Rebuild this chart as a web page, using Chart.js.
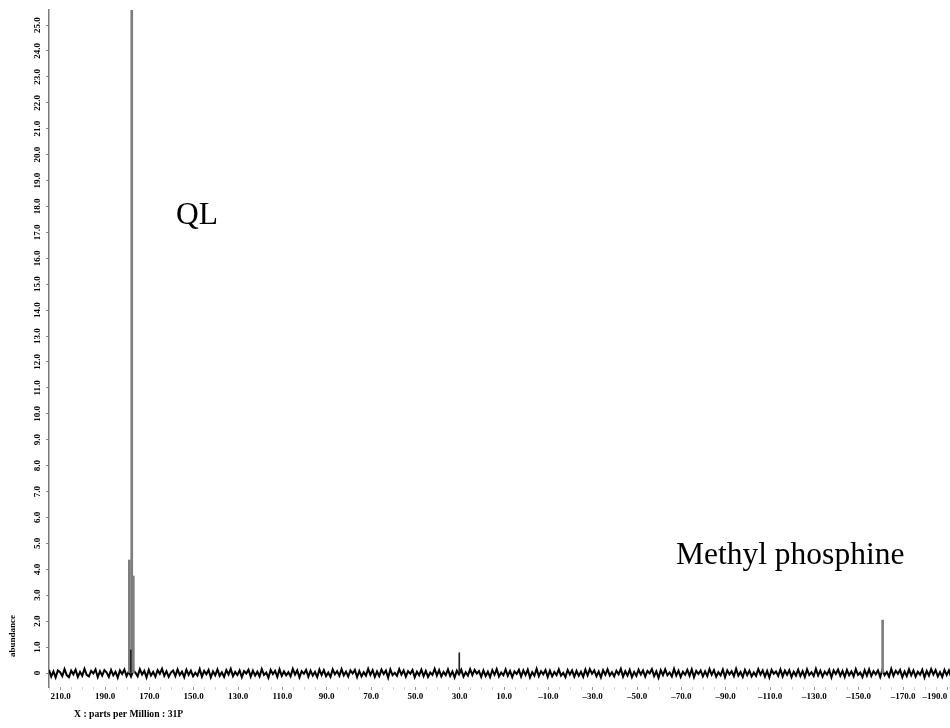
<!DOCTYPE html>
<html>
<head>
<meta charset="utf-8">
<script src="https://cdn.jsdelivr.net/npm/chart.js@4.4.1/dist/chart.umd.min.js"></script>
<style>
  html, body { margin: 0; padding: 0; background: #fff; }
  canvas { display: block; }
</style>
</head>
<body>
<canvas id="spectrum" width="950" height="728"></canvas>
<script>
// 31P NMR spectrum: baseline samples on a uniform ppm grid, plus the resolved resonances.
const gridStartPpm = 215.3;
const gridStepPpm = 1.0;

// Baseline intensity (noise) at each grid point, in abundance units.
const baseline = [
  0.12, -0.14, 0.06, -0.17, 0.1, 0.03, -0.12, 0.15, -0.08, -0.16, 0.09, -0.05, 0.13, -0.15, 0.04, -0.11, 0.16, -0.07, -0.13, 0.08,
  -0.02, 0.14, -0.16, 0.07, -0.1, 0.11, 0.02, -0.15, 0.12, -0.09, 0.05, -0.18, 0.1, -0.04, 0.13, -0.12, 0.06, -0.14, 0.09, 0.01,
  -0.13, 0.15, -0.06, 0.08, -0.17, 0.12, -0.1, 0.04, -0.14, 0.11, -0.03, 0.16, -0.11, 0.07, -0.15, 0.02, 0.1, -0.12, 0.14, -0.08,
  0.05, -0.16, 0.13, -0.07, 0.09, -0.13, 0.01, -0.1, 0.15, -0.14, 0.08, -0.05, 0.12, -0.17, 0.06, -0.09, 0.14, -0.11, 0.03, -0.15,
  0.11, -0.06, 0.16, -0.12, 0.04, -0.08, 0.1, -0.16, 0.07, -0.02, 0.13, -0.14, 0.09, -0.1, 0.05, -0.13, 0.15, -0.07, 0.02, -0.18,
  0.12, -0.04, 0.08, -0.15, 0.14, -0.11, 0.06, -0.09, 0.03, -0.13, 0.16, -0.06, 0.1, -0.17, 0.07, -0.03, 0.12, -0.14, 0.09, -0.1,
  0.04, -0.16, 0.13, -0.08, 0.11, -0.12, 0.02, -0.15, 0.14, -0.05, 0.07, -0.11, 0.15, -0.09, 0.05, -0.14, 0.1, -0.02, 0.12, -0.16,
  0.08, -0.13, 0.03, -0.1, 0.16, -0.07, 0.11, -0.15, 0.06, -0.12, 0.13, -0.04, 0.09, -0.18, 0.14, -0.08, 0.01, -0.11, 0.15, -0.06,
  0.1, -0.14, 0.07, -0.03, 0.12, -0.16, 0.05, -0.09, 0.13, -0.12, 0.08, -0.15, 0.02, -0.07, 0.16, -0.1, 0.11, -0.13, 0.04, -0.08,
  0.14, -0.11, 0.06, -0.17, 0.09, -0.05, 0.13, -0.14, 0.03, -0.1, 0.15, -0.08, 0.12, -0.02, 0.07, -0.15, 0.1, -0.12, 0.05, -0.16,
  0.11, -0.07, 0.15, -0.13, 0.02, -0.09, 0.14, -0.11, 0.08, -0.16, 0.06, -0.04, 0.12, -0.14, 0.1, -0.08, 0.13, -0.17, 0.03, -0.1,
  0.16, -0.12, 0.07, -0.05, 0.11, -0.15, 0.09, -0.13, 0.04, -0.08, 0.14, -0.1, 0.01, -0.16, 0.12, -0.06, 0.1, -0.14, 0.08, -0.11,
  0.05, -0.15, 0.13, -0.09, 0.15, -0.03, 0.1, -0.12, 0.06, -0.17, 0.11, -0.07, 0.14, -0.1, 0.03, -0.13, 0.09, -0.05, 0.16, -0.14,
  0.07, -0.1, 0.12, -0.16, 0.04, -0.11, 0.13, -0.06, 0.1, -0.14, 0.08, -0.02, 0.15, -0.12, 0.06, -0.18, 0.11, -0.08, 0.14, -0.09,
  0.02, -0.13, 0.16, -0.1, 0.09, -0.15, 0.05, -0.07, 0.12, -0.11, 0.14, -0.16, 0.08, -0.04, 0.1, -0.13, 0.06, -0.12, 0.15, -0.07,
  0.11, -0.14, 0.03, -0.09, 0.13, -0.16, 0.1, -0.05, 0.07, -0.12, 0.16, -0.1, 0.04, -0.15, 0.12, -0.08, 0.09, -0.13, 0.02, -0.11,
  0.15, -0.06, 0.1, -0.14, 0.08, -0.17, 0.12, -0.03, 0.06, -0.11, 0.14, -0.13, 0.09, -0.07, 0.11, -0.16, 0.05, -0.1, 0.13, -0.12,
  0.07, -0.15, 0.14, -0.08, 0.03, -0.12, 0.16, -0.1, 0.09, -0.14, 0.05, -0.06, 0.12, -0.17, 0.1, -0.04, 0.13, -0.11, 0.08, -0.15,
  0.12, -0.09, 0.06, -0.13, 0.15, -0.07, 0.02, -0.16, 0.11, -0.1, 0.14, -0.12, 0.07, -0.05, 0.1, -0.15, 0.13, -0.08, 0.04, -0.14,
  0.16, -0.11, 0.09, -0.03, 0.12, -0.16, 0.06, -0.12, 0.14, -0.09, 0.1, -0.14, 0.05, -0.07, 0.13, -0.17, 0.08, -0.1, 0.15, -0.06,
  0.11, -0.13, 0.04, -0.15, 0.12, -0.08, 0.1, -0.16, 0.07, -0.11
];

// Resonances: chemical shift (ppm) and intensity.
const peakPpm    = [179.05, 178.4, 177.97, 177.25, 30.2, -160.8];
const peakHeight = [4.36, 0.89, 31.0, 3.74, 0.78, 2.04];

// Axis ticks
const xTickLabels = [210, 190, 170, 150, 130, 110, 90, 70, 50, 30, 10, -10, -30, -50, -70, -90, -110, -130, -150, -170, -190];
const yTickValues = [0, 1, 2, 3, 4, 5, 6, 7, 8, 9, 10, 11, 12, 13, 14, 15, 16, 17, 18, 19, 20, 21, 22, 23, 24, 25];

// Text
const peakNames = ['QL', 'Methyl phosphine'];
const xAxisTitle = 'X : parts per Million : 31P';
const yAxisTitle = 'abundance';

const baselineTrace = baseline.map((v, i) => ({ x: gridStartPpm - i * gridStepPpm, y: v }));
const peakTrace = peakPpm.map((p, i) => ({ x: p, y: peakHeight[i] }));
// Strong resonances are drawn as wider grey sticks, weak ones as thin dark sticks
const strongPeaks = peakTrace.filter(p => p.y > 1.5);
const weakPeaks = peakTrace.filter(p => p.y <= 1.5);

const serif = '"Liberation Serif", "Times New Roman", serif';
const tickFont = { family: serif, size: 9, weight: 'bold' };
const formatPpm = v => (v < 0 ? '\u2013' + Math.abs(v).toFixed(1) : v.toFixed(1));

const textPlugin = {
  id: 'spectrumText',
  afterDraw(chart) {
    const ctx = chart.ctx;
    ctx.save();
    ctx.fillStyle = '#000';
    ctx.textAlign = 'left';
    ctx.textBaseline = 'alphabetic';
    ctx.font = '31.5px ' + serif;
    ctx.fillText(peakNames[0], 176, 224);
    ctx.fillText(peakNames[1], 676, 564);
    ctx.font = 'bold 9.7px ' + serif;
    ctx.fillText(xAxisTitle, 74, 717);
    ctx.font = 'bold 9px ' + serif;
    ctx.translate(13, 636);
    ctx.rotate(-Math.PI / 2);
    ctx.textAlign = 'center';
    ctx.textBaseline = 'middle';
    ctx.fillText(yAxisTitle, 0, 0);
    ctx.restore();
  }
};

new Chart(document.getElementById('spectrum'), {
  type: 'line',
  data: {
    datasets: [
      {
        type: 'bar',
        data: strongPeaks,
        order: 1,
        barThickness: 2,
        grouped: false,
        borderWidth: 0,
        backgroundColor: '#7d7d7d'
      },
      {
        type: 'bar',
        data: weakPeaks,
        order: 0,
        barThickness: 1,
        grouped: false,
        borderWidth: 0,
        backgroundColor: '#222'
      },
      {
        type: 'line',
        data: baselineTrace,
        order: 2,
        borderColor: '#000',
        borderWidth: 2,
        pointRadius: 0,
        tension: 0,
        fill: false
      }
    ]
  },
  options: {
    responsive: false,
    animation: false,
    devicePixelRatio: 1,
    layout: { padding: { top: 10, left: 0, right: 0, bottom: 0 } },
    plugins: { legend: { display: false }, tooltip: { enabled: false } },
    scales: {
      x: {
        type: 'linear',
        reverse: true,
        offset: false,
        min: -191.2,
        max: 215.3,
        afterBuildTicks: scale => {
          const ticks = [];
          for (let v = -190; v <= 215; v += 5) ticks.push({ value: v });
          scale.ticks = ticks;
        },
        afterFit: scale => {
          scale.height = 41;
          scale.paddingLeft = 0;
          scale.paddingRight = 0;
        },
        ticks: {
          autoSkip: false,
          maxRotation: 0,
          minRotation: 0,
          align: 'inner',
          padding: 1,
          color: '#000',
          font: tickFont,
          callback: v => (xTickLabels.includes(v) ? formatPpm(v) : '')
        },
        grid: {
          offset: false,
          drawOnChartArea: false,
          tickLength: 3,
          color: ctx => (ctx.tick && xTickLabels.includes(ctx.tick.value) ? '#9a9a9a' : '#d4d4d4')
        },
        border: { display: false }
      },
      y: {
        min: -0.54,
        max: 25.58,
        afterBuildTicks: scale => {
          scale.ticks = yTickValues.map(v => ({ value: v }));
        },
        afterFit: scale => {
          scale.width = 49;
          scale.paddingTop = 0;
          scale.paddingBottom = 0;
        },
        ticks: {
          autoSkip: false,
          minRotation: 90,
          maxRotation: 90,
          crossAlign: 'center',
          padding: 0,
          color: '#000',
          font: tickFont,
          callback: v => (v === 0 ? '0' : v.toFixed(1))
        },
        grid: {
          drawOnChartArea: false,
          tickLength: 3,
          color: '#8a8a8a'
        },
        border: { display: true, color: '#7a7a7a', width: 1.5 }
      }
    }
  },
  plugins: [textPlugin]
});
</script>
</body>
</html>
